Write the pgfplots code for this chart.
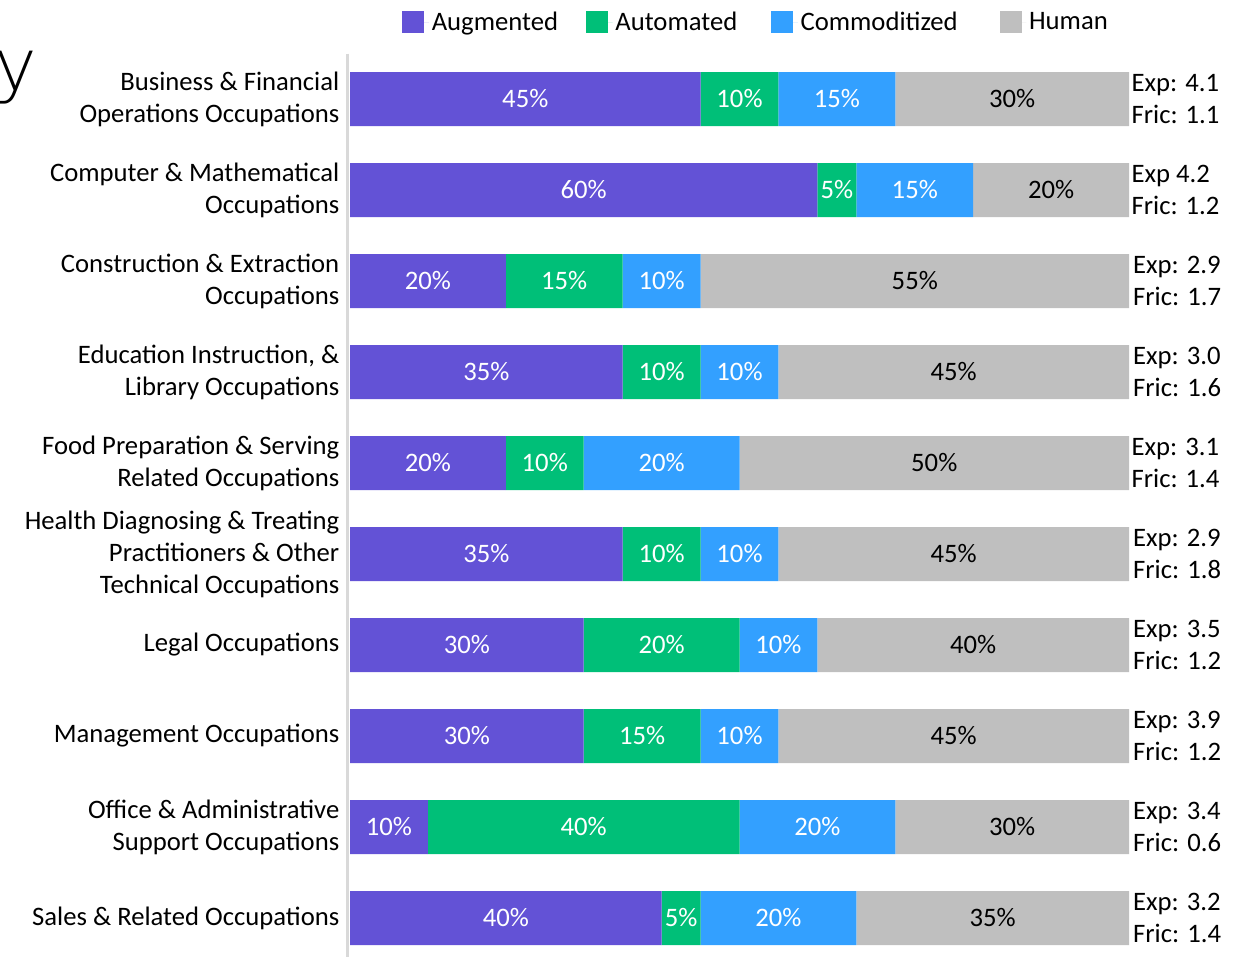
\documentclass[border=0pt]{standalone}
\usepackage{pgfplots}
\pgfplotsset{compat=1.18}
\usepackage{pgfplotstable}
\usepackage{fontspec}
\setmainfont{Carlito}
\newfontfamily\thinfont{DejaVu Sans ExtraLight}
\definecolor{caug}{RGB}{99,82,214}
\definecolor{cauto}{RGB}{0,191,120}
\definecolor{ccomm}{RGB}{51,160,255}
\definecolor{chum}{RGB}{191,191,191}
\definecolor{caxis}{RGB}{217,217,217}

\pgfplotstableread{
idx aug auto comm hum exp fric
0 45 10 15 30 4.1 1.1
1 60 5 15 20 4.2 1.2
2 20 15 10 55 2.9 1.7
3 35 10 10 45 3.0 1.6
4 20 10 20 50 3.1 1.4
5 35 10 10 45 2.9 1.8
6 30 20 10 40 3.5 1.2
7 30 15 10 45 3.9 1.2
8 10 40 20 30 3.4 0.6
9 40 5 20 35 3.2 1.4
}\datatable

\begin{document}
\begin{tikzpicture}[font=\fontsize{20pt}{24pt}\selectfont]
\path[use as bounding box] (0,0) rectangle (932.25pt,717.75pt);
\node[anchor=base west, inner sep=0, font=\thinfont\fontsize{54pt}{54pt}\selectfont] at (-4.5pt,650pt) {y};
\begin{axis}[
  at={(261pt,677.625pt)}, anchor=north west,
  scale only axis, width=585.75pt, height=682.5pt,
  xbar stacked, bar width=40.5pt,
  xmin=-0.26, xmax=100,
  ymin=-0.5, ymax=9.5, y dir=reverse,
  axis x line=none,
  axis y line*=left,
  y axis line style={draw=caxis, line width=2.25pt, -},
  ytick={0,...,9},
  ytick style={draw=none},
  yticklabels={
    {Business \& Financial\\Operations Occupations},
    {Computer \& Mathematical\\Occupations},
    {Construction \& Extraction\\Occupations},
    {Education Instruction, \&\\Library Occupations},
    {Food Preparation \& Serving\\Related Occupations},
    {Health Diagnosing \& Treating\\Practitioners \& Other\\Technical Occupations},
    {Legal Occupations},
    {Management Occupations},
    {Office \& Administrative\\Support Occupations},
    {Sales \& Related Occupations}},
  yticklabel style={align=right, font=\fontsize{20pt}{24pt}\selectfont, xshift=-3pt},
  clip=false,
  point meta=explicit symbolic,
  nodes near coords={\pgfplotspointmeta\%},
  every node near coord/.append style={text=white, font=\fontsize{20pt}{22pt}\selectfont},
  legend columns=4,
  legend style={draw=none, fill=none, at={(0.523,1.0345)}, anchor=center,
    font=\fontsize{20pt}{22pt}\selectfont,
    /tikz/every even column/.append style={column sep=19pt}},
  legend image code/.code={\fill[#1] (0pt,-8.25pt) rectangle (16.5pt,8.25pt); \path (0pt,0pt) -- (20pt,0pt);},
]
\addplot[fill=caug, draw=none] table[x=aug, y=idx, meta=aug] {\datatable};
\addplot[fill=cauto, draw=none] table[x=auto, y=idx, meta=auto] {\datatable};
\addplot[fill=ccomm, draw=none] table[x=comm, y=idx, meta=comm] {\datatable};
\addplot[fill=chum, draw=none, every node near coord/.append style={text=black}] table[x=hum, y=idx, meta=hum] {\datatable};
\legend{Augmented, Automated\rule{4.5pt}{0pt}, Commoditized\rule{10.5pt}{0pt}, Human}
\node[anchor=west, align=left, inner sep=0] at (axis cs:100.3,0) {Exp: 4.1\\Fric: 1.1};
\node[anchor=west, align=left, inner sep=0] at (axis cs:100.3,1) {Exp 4.2\\Fric: 1.2};
\node[anchor=west, align=left, inner sep=0] at (axis cs:100.5,2) {Exp: 2.9\\Fric: 1.7};
\node[anchor=west, align=left, inner sep=0] at (axis cs:100.5,3) {Exp: 3.0\\Fric: 1.6};
\node[anchor=west, align=left, inner sep=0] at (axis cs:100.3,4) {Exp: 3.1\\Fric: 1.4};
\node[anchor=west, align=left, inner sep=0] at (axis cs:100.5,5) {Exp: 2.9\\Fric: 1.8};
\node[anchor=west, align=left, inner sep=0] at (axis cs:100.5,6) {Exp: 3.5\\Fric: 1.2};
\node[anchor=west, align=left, inner sep=0] at (axis cs:100.5,7) {Exp: 3.9\\Fric: 1.2};
\node[anchor=west, align=left, inner sep=0] at (axis cs:100.5,8) {Exp: 3.4\\Fric: 0.6};
\node[anchor=west, align=left, inner sep=0] at (axis cs:100.5,9) {Exp: 3.2\\Fric: 1.4};
\end{axis}
\end{tikzpicture}
\end{document}
